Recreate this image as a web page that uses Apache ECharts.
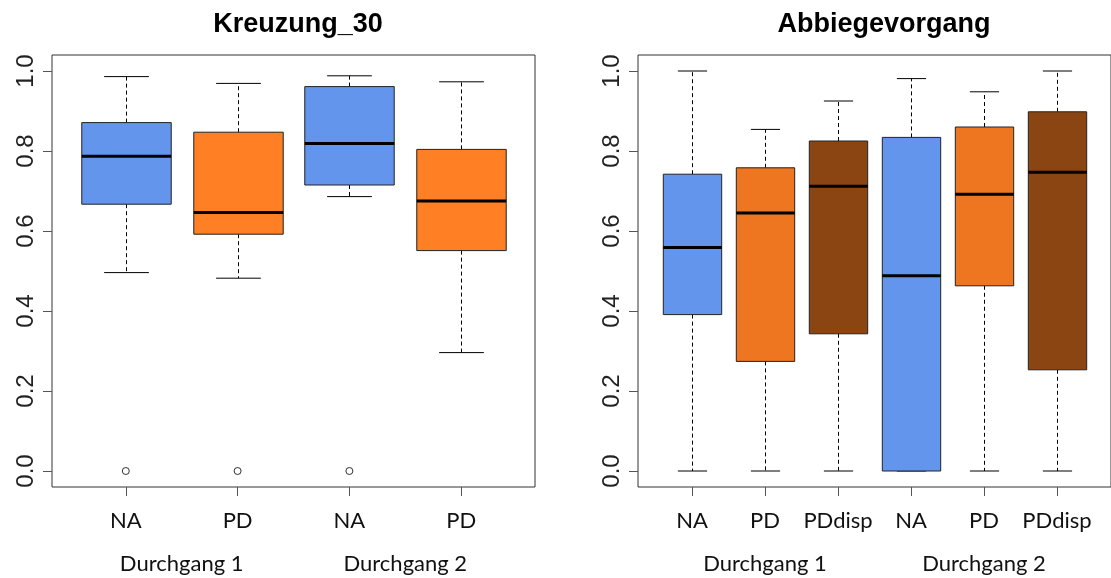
<!DOCTYPE html>
<html>
<head>
<meta charset="utf-8" />
<title>Kreuzung_30 / Abbiegevorgang</title>
<script src="https://cdn.jsdelivr.net/npm/echarts@6/dist/echarts.min.js"></script>
<style>
  html, body { margin: 0; padding: 0; background: #fff; }
  #chart { width: 1111px; height: 578px; }
</style>
</head>
<body>
<div id="chart"></div>
<script>
// ---- Kreuzung_30 ----
var leftTitle = 'Kreuzung_30';
var leftCats = ['NA', 'PD', 'NA', 'PD'];
var leftGroups = ['Durchgang 1', 'Durchgang 2'];
var leftMin = [0.496, 0.482, 0.686, 0.296];
var leftQ1  = [0.667, 0.592, 0.715, 0.551];
var leftMed = [0.787, 0.646, 0.819, 0.675];
var leftQ3  = [0.871, 0.847, 0.961, 0.804];
var leftMax = [0.986, 0.969, 0.988, 0.973];
var leftOutliers = [[1, 0.0], [2, 0.0], [3, 0.0]]; // [box number, value]

// ---- Abbiegevorgang ----
var rightTitle = 'Abbiegevorgang';
var rightCats = ['NA', 'PD', 'PDdisp', 'NA', 'PD', 'PDdisp'];
var rightGroups = ['Durchgang 1', 'Durchgang 2'];
var rightMin = [0.0, 0.0, 0.0, 0.0, 0.0, 0.0];
var rightQ1  = [0.391, 0.274, 0.343, 0.0, 0.463, 0.253];
var rightMed = [0.559, 0.645, 0.712, 0.488, 0.692, 0.747];
var rightQ3  = [0.742, 0.758, 0.825, 0.834, 0.860, 0.898];
var rightMax = [1.0, 0.854, 0.925, 0.981, 0.948, 1.0];

var yTicks = [0, 0.2, 0.4, 0.6, 0.8, 1.0];

var leftColors = { 'NA': '#6495ED', 'PD': '#FF7F24' };
var rightColors = { 'NA': '#6495ED', 'PD': '#EE7621', 'PDdisp': '#8B4513' };

function boxRows(mn, q1, md, q3, mx) {
  var rows = [];
  for (var i = 0; i < mn.length; i++) {
    rows.push([i + 1, mn[i], q1[i], md[i], q3[i], mx[i]]);
  }
  return rows;
}

function makeRender(cats, colors) {
  return function (params, api) {
    var x = api.value(0);
    var lo = api.coord([x, api.value(1)]);
    var q1 = api.coord([x, api.value(2)]);
    var md = api.coord([x, api.value(3)]);
    var q3 = api.coord([x, api.value(4)]);
    var hi = api.coord([x, api.value(5)]);
    var bw = api.size([0.8, 0])[0];
    var cw = bw / 4;
    var cx = Math.round(lo[0]) + 0.5;
    var dash = { stroke: '#000', lineWidth: 1, lineDash: [4, 3] };
    var solid = { stroke: '#000', lineWidth: 1 };
    return {
      type: 'group',
      children: [
        { type: 'line', shape: { x1: cx, y1: q3[1], x2: cx, y2: hi[1] }, style: dash },
        { type: 'line', shape: { x1: cx, y1: q1[1], x2: cx, y2: lo[1] }, style: dash },
        { type: 'line', shape: { x1: cx - cw, y1: hi[1], x2: cx + cw, y2: hi[1] }, style: solid },
        { type: 'line', shape: { x1: cx - cw, y1: lo[1], x2: cx + cw, y2: lo[1] }, style: solid },
        {
          type: 'rect',
          shape: { x: cx - bw / 2, y: q3[1], width: bw, height: q1[1] - q3[1] },
          style: { fill: colors[cats[params.dataIndex]], stroke: '#222', lineWidth: 1 }
        },
        { type: 'line', shape: { x1: cx - bw / 2, y1: md[1], x2: cx + bw / 2, y2: md[1] }, style: { stroke: '#000', lineWidth: 3 } }
      ]
    };
  };
}

function groupCenters(cats, groups) {
  var per = cats.length / groups.length;
  var out = [];
  for (var g = 0; g < groups.length; g++) out.push(g * per + (per + 1) / 2);
  return out;
}

function positions(cats) {
  var p = [];
  for (var i = 0; i < cats.length; i++) p.push(i + 1);
  return p;
}

function catAxis(gridIndex, cats) {
  var ext = 0.5 + 0.04 * cats.length;
  return {
    type: 'value', gridIndex: gridIndex, position: 'bottom',
    min: 1 - ext, max: cats.length + ext,
    axisLine: { show: false, onZero: false },
    splitLine: { show: false },
    axisTick: { show: true, customValues: positions(cats), length: 9, lineStyle: { color: '#555' } },
    axisLabel: {
      customValues: positions(cats), margin: 23,
      fontFamily: 'Lato', fontSize: 22, color: '#111',
      formatter: function (v) { return cats[Math.round(v) - 1]; }
    }
  };
}

function groupAxis(gridIndex, cats, groups) {
  var ext = 0.5 + 0.04 * cats.length;
  var centers = groupCenters(cats, groups);
  return {
    type: 'value', gridIndex: gridIndex, position: 'bottom', offset: 44,
    min: 1 - ext, max: cats.length + ext,
    axisLine: { show: false, onZero: false }, axisTick: { show: false }, splitLine: { show: false },
    axisLabel: {
      customValues: centers, margin: 22,
      fontFamily: 'Lato', fontSize: 22, color: '#111',
      formatter: function (v) {
        for (var i = 0; i < centers.length; i++) if (Math.abs(centers[i] - v) < 1e-6) return groups[i];
        return '';
      }
    }
  };
}

function valAxis(gridIndex) {
  return {
    type: 'value', gridIndex: gridIndex, min: -0.04, max: 1.04,
    axisLine: { show: false, onZero: false }, splitLine: { show: false },
    axisTick: { show: true, customValues: yTicks, length: 9, lineStyle: { color: '#555' } },
    axisLabel: {
      customValues: yTicks, rotate: 90, margin: 14,
      fontFamily: 'Liberation Sans', fontSize: 24, color: '#222',
      formatter: function (v) { return v.toFixed(1); }
    }
  };
}

var gridBase = { show: true, borderColor: '#333', borderWidth: 1, backgroundColor: 'transparent', top: 55, height: 432, width: 483 };

var option = {
  animation: false,
  title: [
    { text: leftTitle, left: 293, top: 6, textAlign: 'center',
      textStyle: { fontFamily: 'Liberation Sans', fontSize: 27, fontWeight: 'bold', color: '#000' } },
    { text: rightTitle, left: 879, top: 6, textAlign: 'center',
      textStyle: { fontFamily: 'Liberation Sans', fontSize: 27, fontWeight: 'bold', color: '#000' } }
  ],
  grid: [
    Object.assign({}, gridBase, { left: 52 }),
    Object.assign({}, gridBase, { left: 638 })
  ],
  xAxis: [
    catAxis(0, leftCats), groupAxis(0, leftCats, leftGroups),
    catAxis(1, rightCats), groupAxis(1, rightCats, rightGroups)
  ],
  yAxis: [valAxis(0), valAxis(1)],
  series: [
    {
      type: 'custom', xAxisIndex: 0, yAxisIndex: 0, clip: false,
      renderItem: makeRender(leftCats, leftColors),
      encode: { x: 0, y: [1, 2, 3, 4, 5] },
      data: boxRows(leftMin, leftQ1, leftMed, leftQ3, leftMax)
    },
    {
      type: 'scatter', xAxisIndex: 0, yAxisIndex: 0,
      symbol: 'circle', symbolSize: 7,
      itemStyle: { color: '#fff', borderColor: '#000', borderWidth: 1 },
      data: leftOutliers
    },
    {
      type: 'custom', xAxisIndex: 2, yAxisIndex: 1, clip: false,
      renderItem: makeRender(rightCats, rightColors),
      encode: { x: 0, y: [1, 2, 3, 4, 5] },
      data: boxRows(rightMin, rightQ1, rightMed, rightQ3, rightMax)
    }
  ]
};

var chart = echarts.init(document.getElementById('chart'));
chart.setOption(option);
</script>
</body>
</html>
